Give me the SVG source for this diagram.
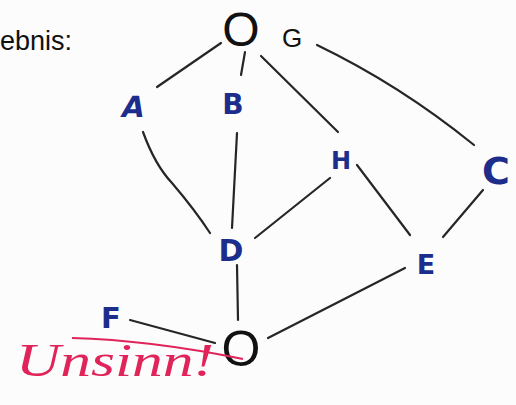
<svg xmlns="http://www.w3.org/2000/svg" width="516" height="405" viewBox="0 0 516 405">
<style>
.e{stroke:#262626;stroke-width:2.2;fill:none;stroke-linecap:round}
.lbl{font-family:"DejaVu Sans",sans-serif;font-weight:bold;fill:#1d2d8c;text-anchor:middle}
.pr{font-family:"Liberation Sans",Arial,sans-serif;fill:#111}
</style>
<rect width="516" height="405" fill="#fcfcfc"/>
<text class="pr" x="0" y="50" font-size="27">ebnis:</text>
<g id="edges">
<path class="e" d="M221,43 L157,87"/>
<path class="e" d="M245,52 L241,75"/>
<path class="e" d="M261,56 L338,132"/>
<path class="e" d="M317,45 Q400,85 474,145"/>
<path class="e" d="M143,132 Q155,165 172,183 Q195,210 210,233"/>
<path class="e" d="M237,133 L232,228"/>
<path class="e" d="M255,238 L330,178"/>
<path class="e" d="M357,165 L410,235"/>
<path class="e" d="M483,190 L443,237"/>
<path class="e" d="M405,268 L268,338"/>
<path class="e" d="M237,265 L238,320"/>
<path class="e" d="M130,320 L215,343"/>
</g>
<g id="nodeO1"><text class="pr" x="241" y="46" font-size="48" text-anchor="middle">O</text></g>
<g id="nodeG"><text class="pr" x="292" y="47" font-size="26" text-anchor="middle">G</text></g>
<g id="nodeA"><text class="lbl" x="132" y="117" font-size="29" transform="skewX(-12) translate(24,0)">A</text></g>
<g id="nodeB"><text class="lbl" x="233" y="114" font-size="28">B</text></g>
<g id="nodeH"><text class="lbl" x="341" y="169" font-size="24">H</text></g>
<g id="nodeC"><text class="lbl" x="496" y="184" font-size="38">C</text></g>
<g id="nodeD"><text class="lbl" x="231" y="261" font-size="30">D</text></g>
<g id="nodeE"><text class="lbl" x="426" y="274" font-size="27">E</text></g>
<g id="nodeF"><text class="lbl" x="111" y="328" font-size="29">F</text></g>
<g id="nodeO2"><text class="pr" x="241" y="366" font-size="50" text-anchor="middle">O</text></g>
<g id="annotation">
<path d="M72,338 Q150,340 243,359" stroke="#e0245a" stroke-width="2.2" fill="none"/>
<text x="16" y="376" font-family="Liberation Serif,serif" font-style="italic" font-size="46" fill="#e0245a" textLength="198" lengthAdjust="spacingAndGlyphs">Unsinn!</text>
</g>
</svg>
